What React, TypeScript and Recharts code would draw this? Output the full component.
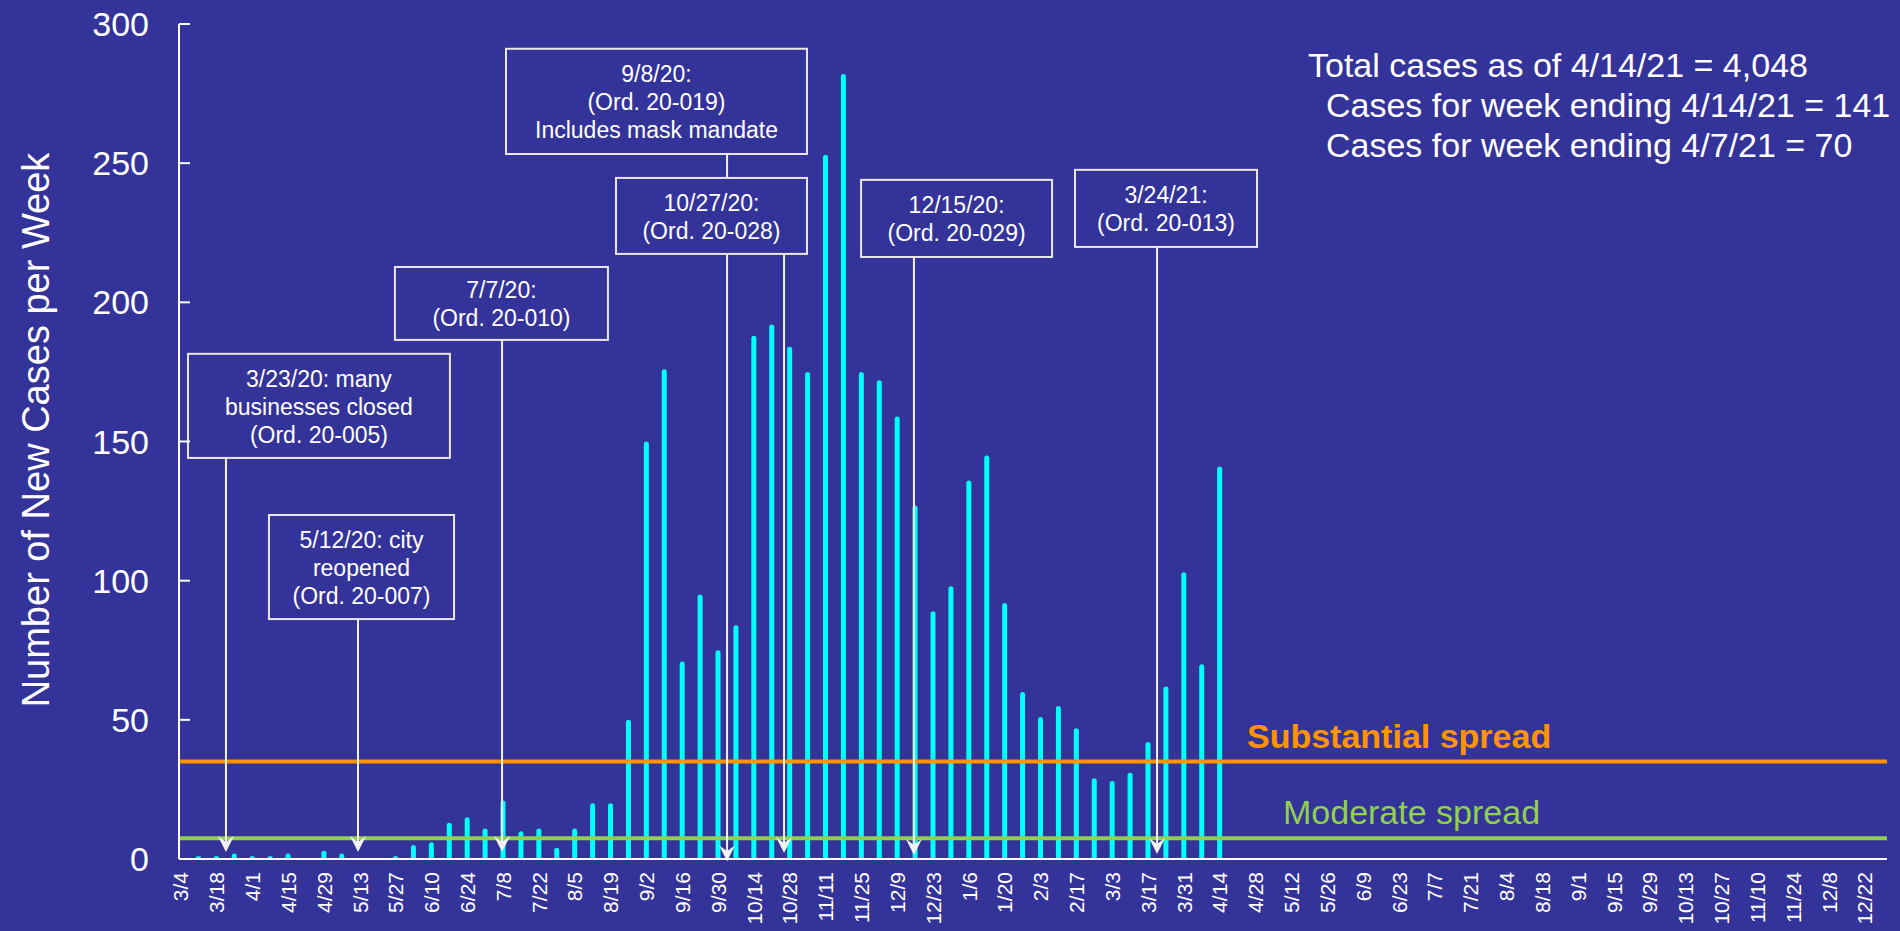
import React from 'react';
import { BarChart, Bar, XAxis, YAxis, ReferenceLine, ReferenceArea } from 'recharts';

// ---------- data ----------
const weekLabels = [
  '3/4', '3/11', '3/18', '3/25', '4/1', '4/8', '4/15', '4/22', '4/29', '5/6', '5/13', '5/20', '5/27',
  '6/3', '6/10', '6/17', '6/24', '7/1', '7/8', '7/15', '7/22', '7/29', '8/5', '8/12', '8/19', '8/26',
  '9/2', '9/9', '9/16', '9/23', '9/30', '10/7', '10/14', '10/21', '10/28', '11/4', '11/11', '11/18',
  '11/25', '12/2', '12/9', '12/16', '12/23', '12/30',
  '1/6', '1/13', '1/20', '1/27', '2/3', '2/10', '2/17', '2/24', '3/3', '3/10', '3/17', '3/24', '3/31',
  '4/7', '4/14', '4/21', '4/28', '5/5', '5/12', '5/19', '5/26', '6/2', '6/9', '6/16', '6/23', '6/30',
  '7/7', '7/14', '7/21', '7/28', '8/4', '8/11', '8/18', '8/25', '9/1', '9/8', '9/15', '9/22', '9/29',
  '10/6', '10/13', '10/20', '10/27', '11/3', '11/10', '11/17', '11/24', '12/1', '12/8', '12/15',
  '12/22', '12/29',
];

const tickLabels = [
  '3/4', '3/18', '4/1', '4/15', '4/29', '5/13', '5/27', '6/10', '6/24', '7/8', '7/22', '8/5', '8/19',
  '9/2', '9/16', '9/30', '10/14', '10/28', '11/11', '11/25', '12/9', '12/23', '1/6', '1/20', '2/3',
  '2/17', '3/3', '3/17', '3/31', '4/14', '4/28', '5/12', '5/26', '6/9', '6/23', '7/7', '7/21', '8/4',
  '8/18', '9/1', '9/15', '9/29', '10/13', '10/27', '11/10', '11/24', '12/8', '12/22',
];

const weeklyCases = [
  0, 1, 1, 2, 1, 1, 2, 0, 3, 2, 0, 0, 1, 5, 6, 13, 15, 11, 21, 10,
  11, 4, 11, 20, 20, 50, 150, 176, 71, 95, 75, 84, 188, 192, 184, 175, 253, 282, 175, 172,
  159, 127, 89, 98, 136, 145, 92, 60, 51, 55, 47, 29, 28, 31, 42, 62, 103, 70, 141,
];

const yTicks = [0, 50, 100, 150, 200, 250, 300];
const substantialThreshold = 35;
const moderateThreshold = 7.5;

const statLines = [
  'Total cases as of 4/14/21 = 4,048',
  'Cases for week ending 4/14/21 = 141',
  'Cases for week ending 4/7/21 = 70',
];

// annotation boxes (in data units: week index / cases)
const annotationBoxes = [
  { lines: ['3/23/20: many', 'businesses closed', '(Ord. 20-005)'], x1: 0.39, x2: 15.01, y1: 144.1, y2: 181.5 },
  { lines: ['5/12/20: city', 'reopened', '(Ord. 20-007)'], x1: 4.91, x2: 15.24, y1: 86.2, y2: 123.6 },
  { lines: ['7/7/20:', '(Ord. 20-010)'], x1: 11.94, x2: 23.83, y1: 186.5, y2: 212.7 },
  { lines: ['9/8/20:', '(Ord. 20-019)', 'Includes mask mandate'], x1: 18.14, x2: 34.94, y1: 253.3, y2: 291.1 },
  { lines: ['10/27/20:', '(Ord. 20-028)'], x1: 24.28, x2: 34.94, y1: 217.4, y2: 244.7 },
  { lines: ['12/15/20:', '(Ord. 20-029)'], x1: 37.96, x2: 48.62, y1: 216.3, y2: 244.0 },
  { lines: ['3/24/21:', '(Ord. 20-013)'], x1: 49.9, x2: 60.06, y1: 219.9, y2: 247.6 },
];

const annotationArrows = [
  { x: 2.51, yTop: 144.1, yTip: 2.5 },
  { x: 9.88, yTop: 86.2, yTip: 2.5 },
  { x: 17.92, yTop: 186.5, yTip: 2.5 },
  { x: 30.48, yTop: 253.3, yTip: -0.8 },
  { x: 33.66, yTop: 217.4, yTip: 2.2 },
  { x: 40.91, yTop: 216.3, yTip: 1.4 },
  { x: 54.48, yTop: 219.9, yTip: 1.8 },
];

// ---------- styles ----------
const BG = '#343399';
const FONT = 'Liberation Sans, Arial, Helvetica, sans-serif';
const BAR_COLOR = '#00FFFF';
const ORANGE = '#FF9400';
const GREEN = '#92D050';
const W = 1900;
const H = 931;

const chartData = weekLabels.map((w, i) => ({
  idx: i,
  week: w,
  cases: i < weeklyCases.length ? weeklyCases[i] : null,
}));

const xTicks = tickLabels.map((l) => weekLabels.indexOf(l));

const XTick = (props: any) => {
  const { x, y, payload } = props;
  return (
    <text
      x={x}
      y={y}
      transform={`rotate(-90 ${x} ${y})`}
      textAnchor="end"
      dy="0.35em"
      fill="#FFFFFF"
      fontSize={21}
      fontFamily={FONT}
    >
      {weekLabels[payload.value]}
    </text>
  );
};

const YTick = (props: any) => {
  const { x, y, payload } = props;
  return (
    <g>
      <line x1={x + 30} y1={y} x2={x + 41} y2={y} stroke="#FFFFFF" strokeWidth={2} />
      <text x={x} y={y} textAnchor="end" dominantBaseline="central" fill="#FFFFFF" fontSize={34} fontFamily={FONT}>
        {payload.value}
      </text>
    </g>
  );
};

const ArrowShape = (p: any) => {
  const { x1, y1, x2, y2 } = p;
  if (x1 == null || y1 == null) return <g />;
  const tipX = x2;
  const tipY = y2;
  return (
    <g>
      <line x1={x1} y1={y1} x2={tipX} y2={tipY - 8} stroke="#F2F2F2" strokeWidth={2} />
      <path
        d={`M ${tipX} ${tipY} L ${tipX - 8} ${tipY - 16} L ${tipX} ${tipY - 10} L ${tipX + 8} ${tipY - 16} Z`}
        fill="#F2F2F2"
      />
    </g>
  );
};

const makeBoxShape = (lines: string[]) => (p: any) => {
  const { x, y, width, height } = p;
  if (x == null || y == null) return <g />;
  const cx = x + width / 2;
  const cy = y + height / 2 + 1;
  return (
    <g>
      <rect x={x} y={y} width={width} height={height} fill={BG} stroke="#E8E8E8" strokeWidth={2} />
      {lines.map((l, k) => (
        <text
          key={k}
          x={cx}
          y={cy + (k - (lines.length - 1) / 2) * 28}
          textAnchor="middle"
          dominantBaseline="central"
          fill="#FFFFFF"
          fontSize={23}
          fontFamily={FONT}
        >
          {l}
        </text>
      ))}
    </g>
  );
};

export default function App() {
  return (
    <div style={{ position: 'absolute', left: 0, top: 0, width: W, height: H, background: BG, overflow: 'hidden' }}>
      <BarChart
        width={W}
        height={H}
        data={chartData}
        margin={{ top: 24, right: 13, bottom: 0, left: 0 }}
        barCategoryGap={0}
      >
        <XAxis
          dataKey="idx"
          type="number"
          domain={[0, 95]}
          ticks={xTicks}
          interval={0}
          padding={{ left: 2, right: 4 }}
          height={72}
          axisLine={{ stroke: '#FFFFFF', strokeWidth: 2 }}
          tickLine={false}
          tickSize={0}
          tickMargin={13}
          tick={<XTick />}
          allowDecimals={false}
        />
        <YAxis
          type="number"
          domain={[0, 300]}
          ticks={yTicks}
          interval={0}
          width={179}
          axisLine={{ stroke: '#FFFFFF', strokeWidth: 2 }}
          tickLine={false}
          tickSize={0}
          tickMargin={30}
          tick={<YTick />}
        />
        <Bar dataKey="cases" fill={BAR_COLOR} barSize={5} radius={[2.5, 2.5, 0, 0]} isAnimationActive={false} />
        <ReferenceLine y={substantialThreshold} stroke={ORANGE} strokeWidth={4} zIndex={400} />
        <ReferenceLine y={moderateThreshold} stroke={GREEN} strokeWidth={4} zIndex={400} />
        {annotationArrows.map((a, i) => (
          <ReferenceLine
            key={`arrow-${i}`}
            segment={[{ x: a.x, y: a.yTop }, { x: a.x, y: a.yTip }]}
            ifOverflow="visible"
            shape={ArrowShape}
            zIndex={450}
          />
        ))}
        {annotationBoxes.map((b, i) => (
          <ReferenceArea
            key={`box-${i}`}
            x1={b.x1}
            x2={b.x2}
            y1={b.y1}
            y2={b.y2}
            ifOverflow="visible"
            shape={makeBoxShape(b.lines)}
            zIndex={600}
          />
        ))}
      </BarChart>
      <svg
        width={W}
        height={H}
        style={{ position: 'absolute', left: 0, top: 0, pointerEvents: 'none' }}
      >
        <text
          x={36}
          y={430}
          transform="rotate(-90 36 430)"
          textAnchor="middle"
          dominantBaseline="central"
          fill="#FFFFFF"
          fontSize={38}
          fontFamily={FONT}
        >
          Number of New Cases per Week
        </text>
        {statLines.map((s, i) => (
          <text
            key={i}
            x={i === 0 ? 1308 : 1326}
            y={77 + i * 40}
            fill="#FFFFFF"
            fontSize={34}
            fontFamily={FONT}
          >
            {s}
          </text>
        ))}
        <text x={1247} y={748} fill={ORANGE} fontSize={34} fontWeight="bold" fontFamily={FONT}>
          Substantial spread
        </text>
        <text x={1283} y={824} fill={GREEN} fontSize={34} fontFamily={FONT}>
          Moderate spread
        </text>
      </svg>
    </div>
  );
}
